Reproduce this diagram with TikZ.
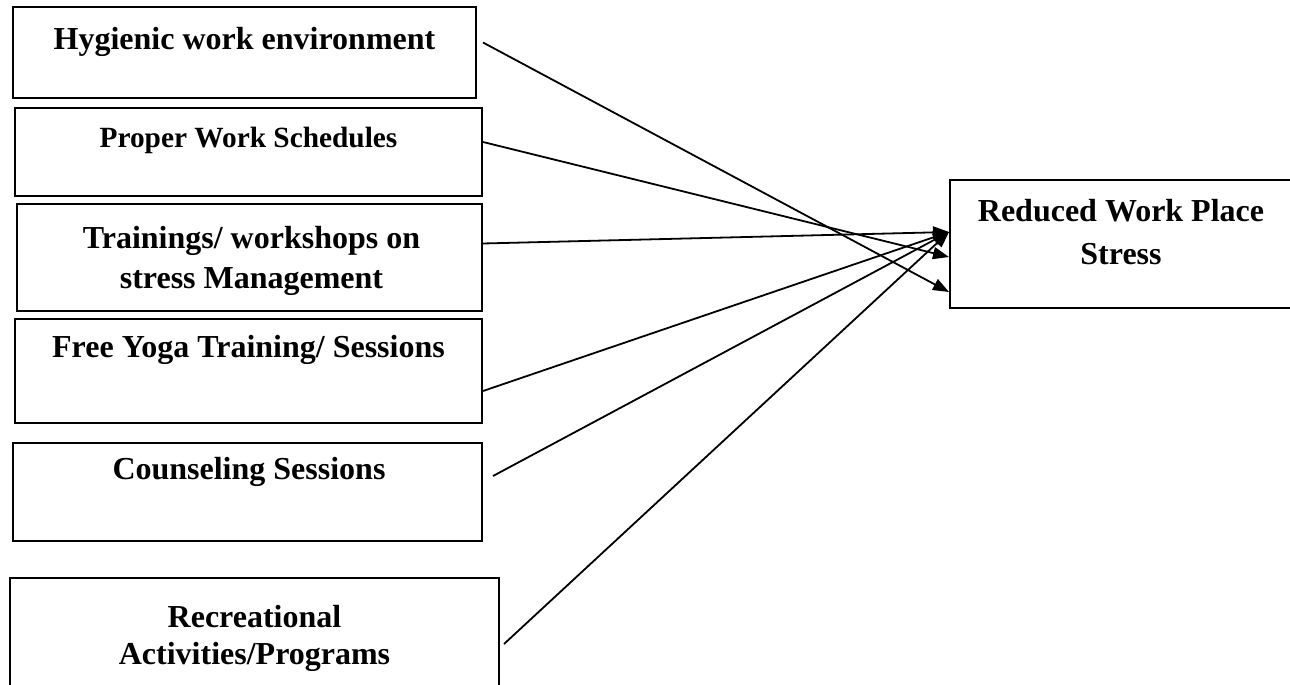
\documentclass[tikz,border=0pt]{standalone}
\usepackage{fontspec}
\setmainfont{Liberation Serif}
\usetikzlibrary{arrows.meta,positioning}

\begin{document}
\begin{tikzpicture}[
  x=0.5pt,y=-0.5pt,
  box/.style={draw,line width=1pt,inner sep=0pt},
  lbl/.style={font=\bfseries\fontsize{16}{20}\selectfont,align=center,inner sep=0pt,anchor=base},
  parr/.style={-{Triangle[length=8pt,width=6pt]},line width=0.9pt}
]
\useasboundingbox (0,0) rectangle (1290,685);
\clip (0,0) rectangle (1290,685);

% factors on the left
\node[box,minimum width=231.5pt,minimum height=45.5pt] (hyg) at (244.5,52.5) {};
\node[box,minimum width=233.5pt,minimum height=44pt] (sched) at (248.5,152) {};
\node[box,minimum width=232.5pt,minimum height=53.5pt] (train) at (249.5,257.5) {};
\node[box,minimum width=233.5pt,minimum height=52pt] (yoga) at (248.5,371) {};
\node[box,minimum width=234.5pt,minimum height=49pt] (couns) at (247.5,492) {};
\node[box,minimum width=244.5pt,minimum height=61pt] (recr) at (254.5,639) {};

% outcome
\node[box,minimum width=171pt,minimum height=64pt] (red) at (1121,244) {};

\node[lbl] (hygtxt) at ([yshift=-21.5pt]hyg.north) {Hygienic work environment};
\node[lbl,font=\bfseries\fontsize{14.67}{18}\selectfont] (schedtxt) at ([yshift=-20pt]sched.north) {Proper Work Schedules};
\node[lbl,anchor=north] (traintxt) at ([xshift=1pt,yshift=-11.5pt]train.north) {Trainings/ workshops on\\stress Management};
\node[lbl] (yogatxt) at ([yshift=-19.5pt]yoga.north) {Free Yoga Training/ Sessions};
\node[lbl] (counstxt) at ([xshift=0.75pt,yshift=-18.5pt]couns.north) {Counseling Sessions};
\node[lbl,anchor=north,font=\bfseries\fontsize{16}{18.5}\selectfont] (recrtxt) at ([yshift=-14pt]recr.north) {Recreational\\Activities/Programs};
\node[lbl,anchor=north,font=\bfseries\fontsize{16}{21.5}\selectfont] (redtxt) at ([yshift=-10pt]red.north) {Reduced Work Place\\Stress};

\draw[parr] ([xshift=3pt,yshift=5pt]hyg.east) -- ([yshift=-24pt]red.west);
\draw[parr] ([yshift=5pt]sched.east) -- ([yshift=-6.5pt]red.west);
\draw[parr] ([yshift=7pt]train.east) -- ([yshift=6pt]red.west);
\draw[parr] ([yshift=-10pt]yoga.east) -- ([yshift=6pt]red.west);
\draw[parr] ([xshift=5pt,yshift=8pt]couns.east) -- ([yshift=6pt]red.west);
\draw[parr] ([xshift=2pt,yshift=-2.5pt]recr.east) -- ([yshift=6pt]red.west);
\end{tikzpicture}
\end{document}
